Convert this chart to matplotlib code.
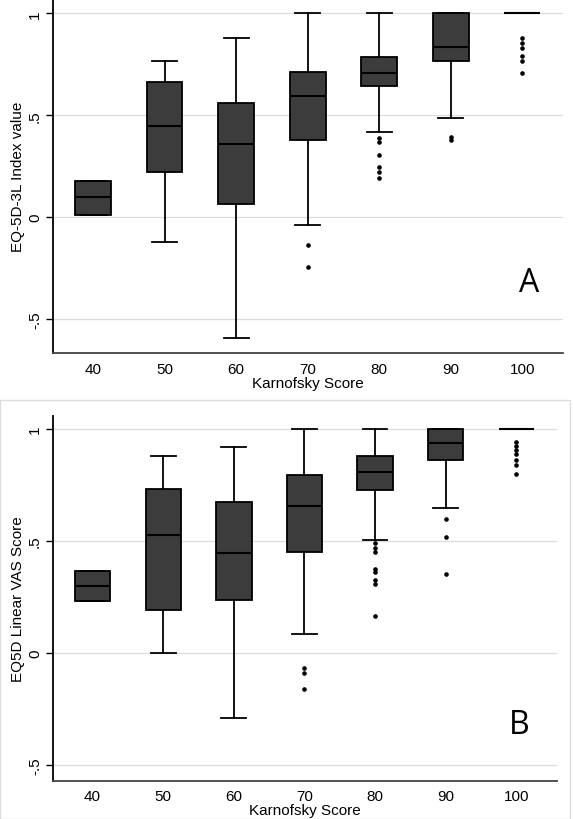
import matplotlib.pyplot as plt
from matplotlib.patches import Rectangle

plt.rcParams['font.family'] = ['Liberation Sans', 'DejaVu Sans']

karnofsky = ['40', '50', '60', '70', '80', '90', '100']

# panel A: EQ-5D-3L index value
a_q1 = [0.01, 0.22, 0.064, 0.377, 0.642, 0.765, 1.0]
a_med = [0.098, 0.445, 0.358, 0.595, 0.706, 0.833, 1.0]
a_q3 = [0.18, 0.665, 0.56, 0.71, 0.785, 1.0, 1.0]
a_lo = [0.01, -0.12, -0.59, -0.04, 0.417, 0.485, 1.0]
a_hi = [0.18, 0.765, 0.877, 1.0, 1.0, 1.0, 1.0]
a_out = [[], [], [], [-0.137, -0.245],
         [0.39, 0.37, 0.304, 0.245, 0.22, 0.19],
         [0.395, 0.377],
         [0.877, 0.853, 0.828, 0.79, 0.765, 0.705]]

# panel B: EQ5D linear VAS score
b_q1 = [0.232, 0.192, 0.237, 0.45, 0.728, 0.86, 1.0]
b_med = [0.30, 0.527, 0.446, 0.656, 0.808, 0.937, 1.0]
b_q3 = [0.366, 0.733, 0.674, 0.794, 0.88, 1.0, 1.0]
b_lo = [0.232, 0.0, -0.29, 0.085, 0.505, 0.647, 1.0]
b_hi = [0.366, 0.88, 0.92, 1.0, 1.0, 1.0, 1.0]
b_out = [[], [], [], [-0.067, -0.09, -0.16],
         [0.49, 0.47, 0.45, 0.375, 0.36, 0.326, 0.31, 0.165],
         [0.598, 0.518, 0.353],
         [0.94, 0.925, 0.906, 0.888, 0.862, 0.84, 0.80]]


def make_stats(q1, med, q3, lo, hi, out):
    stats = []
    for i in range(len(karnofsky)):
        stats.append({'q1': q1[i], 'med': med[i], 'q3': q3[i],
                      'whislo': lo[i], 'whishi': hi[i], 'fliers': out[i]})
    return stats


def draw_panel(ax, stats, ylabel, letter, letter_x, ylim):
    ax.bxp(stats, positions=range(1, 8), widths=0.5, capwidths=0.35,
           patch_artist=True,
           boxprops=dict(facecolor='#3c3c3c', edgecolor='black', linewidth=1.3),
           medianprops=dict(color='black', linewidth=1.5),
           whiskerprops=dict(color='black', linewidth=1.3),
           capprops=dict(color='black', linewidth=1.3),
           flierprops=dict(marker='o', markersize=2.3, markerfacecolor='black',
                           markeredgecolor='black', linestyle='none'))
    ax.set_xlim(0.44, 7.57)
    ax.set_ylim(*ylim)
    ax.set_yticks([-0.5, 0, 0.5, 1])
    ax.set_yticklabels(['-.5', '0', '.5', '1'], rotation=90, va='center')
    ax.set_xticks(range(1, 8))
    ax.set_xticklabels(karnofsky)
    ax.tick_params(axis='x', length=0, labelsize=11, pad=6)
    ax.tick_params(axis='y', length=5, labelsize=11, width=1, pad=3)
    ax.grid(axis='y', color='#dcdcdc', linewidth=0.9)
    ax.set_axisbelow(True)
    for s in ['top', 'right']:
        ax.spines[s].set_visible(False)
    ax.spines['left'].set_linewidth(1.3)
    ax.spines['bottom'].set_linewidth(1.3)
    ax.spines['bottom'].set_color('#444444')
    ax.set_xlabel('Karnofsky Score', fontsize=11, labelpad=0)
    ax.set_ylabel(ylabel, fontsize=11, labelpad=2)
    ax.text(letter_x, -0.32, letter, fontsize=23, family=['Open Sans', 'DejaVu Sans'],
            ha='center', va='center')


fig = plt.figure(figsize=(5.73, 8.20), dpi=100)

# light frame around lower panel
fig.patches.append(Rectangle((0.0, 0.0), 0.995, 0.511, transform=fig.transFigure,
                             fill=False, edgecolor='#dddddd', linewidth=1))

ax1 = fig.add_axes([0.0925, 0.568, 0.89, 0.432])
draw_panel(ax1, make_stats(a_q1, a_med, a_q3, a_lo, a_hi, a_out),
           'EQ-5D-3L Index value', 'A', 7.1, (-0.667, 1.07))

ax2 = fig.add_axes([0.0925, 0.0463, 0.879, 0.4452])
draw_panel(ax2, make_stats(b_q1, b_med, b_q3, b_lo, b_hi, b_out),
           'EQ5D Linear VAS Score', 'B', 7.04, (-0.571, 1.058))

fig.savefig('out.png', dpi=100)
